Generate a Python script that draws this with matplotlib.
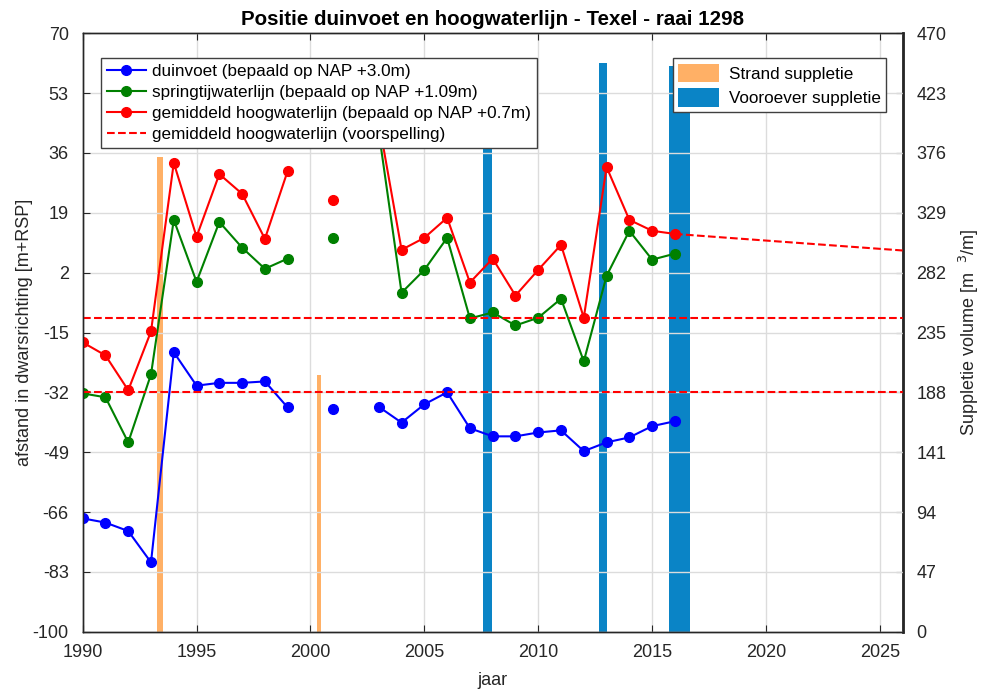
import numpy as np
import matplotlib
matplotlib.use("Agg")
import matplotlib.pyplot as plt

plt.rcParams['font.family'] = ['Liberation Sans', 'DejaVu Sans']
plt.rcParams['axes.unicode_minus'] = False

nan = np.nan
years = list(range(1990, 2017))
duinvoet = [-67.8, -69.0, -71.4, -80.3, -20.6, -30.1, -29.3, -29.3, -28.9, -36.3,
            nan, -36.8, nan, -36.1, -40.6, -35.4, -32.0, -42.2, -44.5, -44.5,
            -43.4, -42.8, -48.7, -46.2, -44.8, -41.6, -40.2]
springtij = [-32.3, -33.4, -46.2, -26.9, 17.0, -0.6, 16.4, 9.1, 3.1, 6.0,
             nan, 11.9, nan, 42.0, -3.7, 2.8, 11.9, -11.0, -9.3, -13.0,
             -10.8, -5.4, -23.2, 1.1, 13.9, 5.7, 7.4]
hoogwater = [-17.8, -21.5, -31.4, -14.7, 33.2, 12.2, 30.0, 24.4, 11.6, 30.9,
             nan, 22.7, nan, 45.0, 8.5, 11.9, 17.6, -0.8, 6.0, -4.5,
             2.8, 9.9, -10.8, 32.0, 17.0, 13.9, 13.0]
forecast_years = [2016, 2026]
forecast_vals = [13.0, 8.3]
ref_lines = [-11.0, -31.8]

strand_years = [1993.38, 2000.37]
strand_vol = [373, 202]
strand_width = [0.26, 0.18]
vooroever_years = [2007.78, 2012.84, 2016.22]
vooroever_vol = [450, 447, 444]
vooroever_width = [0.41, 0.37, 0.92]

left_ticks = [70, 53, 36, 19, 2, -15, -32, -49, -66, -83, -100]
right_ticks = [0, 47, 94, 141, 188, 235, 282, 329, 376, 423, 470]
x_ticks = [1990, 1995, 2000, 2005, 2010, 2015, 2020, 2025]

fig = plt.figure(figsize=(9.83, 6.91), dpi=100)
ax = fig.add_axes([0.0841, 0.0858, 0.9183 - 0.0841, 0.9518 - 0.0858])
ax2 = ax.twinx()
ax.set_zorder(ax2.get_zorder() + 1)
ax.patch.set_visible(False)

spine_col = '#262626'
fs = 13

# bars on right axis
b1 = ax2.bar(strand_years, strand_vol, width=strand_width, color='#FFB066',
             label='Strand suppletie', zorder=2)
b2 = ax2.bar(vooroever_years, vooroever_vol, width=vooroever_width, color='#0A84C6',
             label='Vooroever suppletie', zorder=2)
ax2.set_ylim(0, 470)
ax2.set_yticks(right_ticks)
ax2.set_ylabel('Suppletie volume [m  $^3$/m]', fontsize=fs, color=spine_col,
               labelpad=7)

# lines
l1, = ax.plot(years, duinvoet, '-o', color='blue', lw=1.5, ms=7,
              label='duinvoet (bepaald op NAP +3.0m)')
l2, = ax.plot(years, springtij, '-o', color='green', lw=1.5, ms=7,
              label='springtijwaterlijn (bepaald op NAP +1.09m)')
l3, = ax.plot(years, hoogwater, '-o', color='red', lw=1.5, ms=7,
              label='gemiddeld hoogwaterlijn (bepaald op NAP +0.7m)')
l4, = ax.plot(forecast_years, forecast_vals, '--', color='red', lw=1.5,
              label='gemiddeld hoogwaterlijn (voorspelling)')
for v in ref_lines:
    ax.plot([1990, 2026], [v, v], '--', color='red', lw=1.5)

ax.set_xlim(1990, 2026)
ax.set_ylim(-100, 70)
ax.set_xticks(x_ticks)
ax.set_yticks(left_ticks)
ax.grid(True, color='#dcdcdc', lw=1)
ax.set_axisbelow(True)

for a in (ax, ax2):
    for s in a.spines.values():
        s.set_color(spine_col)
        s.set_linewidth(1.0)
    a.tick_params(direction='in', labelsize=fs, colors=spine_col, length=5, pad=10)
ax.tick_params(axis='x', pad=9)
ax.tick_params(top=True, right=False)
ax2.spines['right'].set_linewidth(2.0)

ax.set_xlabel('jaar', fontsize=fs, color=spine_col, labelpad=8)
ax.set_ylabel('afstand in dwarsrichting [m+RSP]', fontsize=fs, color=spine_col,
              labelpad=0)
ax.set_title('Positie duinvoet en hoogwaterlijn - Texel - raai 1298',
             fontsize=14.8, fontweight='bold', pad=6)

leg1 = ax.legend(handles=[l1, l2, l3, l4], loc='upper left',
                 bbox_to_anchor=(0.022, 0.958), fontsize=12.3, fancybox=False,
                 framealpha=1, edgecolor='#404040', handlelength=2.3,
                 borderpad=0.35, labelspacing=0.35, handletextpad=0.35,
                 borderaxespad=0)
leg1.set_zorder(20)
leg2 = ax.legend(handles=[b1, b2], loc='upper right',
                 bbox_to_anchor=(0.98, 0.958), fontsize=12.3, fancybox=False,
                 framealpha=1, edgecolor='#404040', handlelength=2.4,
                 handleheight=1.3, borderpad=0.3, labelspacing=0.35,
                 handletextpad=0.6, borderaxespad=0)
ax.add_artist(leg1)
leg2.set_zorder(20)

fig.savefig('out.png', dpi=100)
